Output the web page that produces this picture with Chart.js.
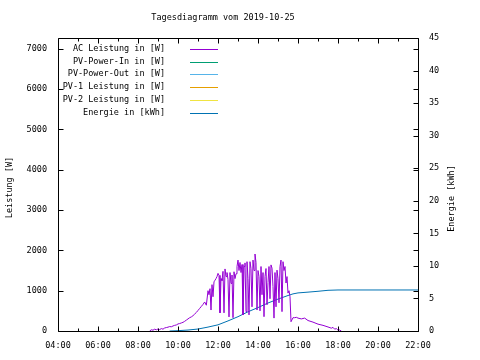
<!DOCTYPE html>
<html>
<head>
<meta charset="utf-8">
<script src="https://cdn.jsdelivr.net/npm/chart.js@4/dist/chart.umd.min.js"></script>
<style>
html,body{margin:0;padding:0;background:#fff;}
#wrap{width:480px;height:360px;position:relative;}
</style>
</head>
<body>
<div id="wrap"><canvas id="c"></canvas></div>
<script>
// ---- data ----
const chartTitle = "Tagesdiagramm vom 2019-10-25";
const yTitle = "Leistung [W]";
const y2Title = "Energie [kWh]";
const seriesLabels = ["AC Leistung in [W]", "PV-Power-In in [W]", "PV-Power-Out in [W]", "PV-1 Leistung in [W]", "PV-2 Leistung in [W]", "Energie in [kWh]"];
const seriesColors = ["#9400D3", "#009E73", "#56B4E9", "#E69F00", "#F0E442", "#0072B2"];

const acTimes = ["08:35","08:40","08:45","08:50","08:55","09:00","09:05","09:10","09:15","09:20","09:25","09:30","09:35","09:40","09:45","09:50","09:55","10:00","10:05","10:10","10:15","10:20","10:25","10:30","10:35","10:40","10:45","10:50","10:55","11:00","11:05","11:10","11:15","11:20","11:25",
"11:30","11:33","11:36","11:39","11:42","11:45","11:48","11:51","11:54","11:57",
"12:00","12:03","12:06","12:09","12:12","12:15","12:18","12:21","12:24","12:27","12:30","12:33","12:36","12:39","12:42","12:45","12:48","12:51","12:54","12:57",
"13:00","13:03","13:06","13:09","13:12","13:15","13:18","13:21","13:24","13:27","13:30","13:33","13:36","13:39","13:42","13:45","13:48","13:51","13:54","13:57",
"14:00","14:03","14:06","14:09","14:12","14:15","14:18","14:21","14:24","14:27","14:30","14:33","14:36","14:39","14:42","14:45","14:48","14:51","14:54","14:57",
"15:00","15:03","15:06","15:09","15:12","15:15","15:18","15:21","15:24","15:27","15:30","15:33","15:36","15:39",
"15:45","15:50","15:55","16:00","16:10","16:20","16:30","16:45","17:00","17:15","17:30","17:40","17:45","17:50","17:55","18:00","18:05","18:10"];
const acValues = [0,30,20,45,30,50,35,60,45,75,85,95,110,105,125,140,150,175,185,200,215,240,270,300,330,350,380,420,460,510,560,610,660,720,640,
1000,900,1050,520,1150,850,1220,1260,1300,1350,
1430,1380,450,1300,1250,1480,450,1540,1350,1450,1280,350,1450,1180,1390,330,1470,1300,1420,1600,
1760,1500,1700,1450,1650,400,1600,1690,480,1720,1300,400,1720,1550,600,1760,1500,1910,1700,520,
1500,1350,500,1600,900,1450,355,1350,1550,650,1200,1600,800,1640,1560,1100,320,1450,600,1510,
1300,700,1600,1760,480,1720,1500,1600,1190,1350,940,1000,850,230,
330,330,340,320,300,320,260,220,170,140,100,70,90,45,60,20,25,0];

const energyTimes = ["09:35","10:00","10:30","11:00","11:30","12:00","12:30","13:00","13:30","14:00","14:30","15:00","15:30","15:45","16:00","16:30","17:00","17:30","18:00","22:00"];
const energyValues = [0,0.05,0.15,0.3,0.6,0.95,1.55,2.2,2.95,3.6,4.3,4.9,5.45,5.7,5.85,5.97,6.1,6.25,6.3,6.3];

const xMin = 4, xMax = 22, xStep = 2;
const yMin = 0, yMax = 7270;
const yTickValues = [0,1000,2000,3000,4000,5000,6000,7000];
const y2Min = 0, y2Max = 45;
const y2TickValues = [0,5,10,15,20,25,30,35,40,45];

// ---- build ----
function toHours(s){ const p = s.split(":"); return (+p[0]) + (+p[1])/60; }
function pts(times, vals){ return times.map((t,i)=>({x:toHours(t), y:vals[i]})); }

const FONT = "'DejaVu Sans Mono', 'Liberation Mono', monospace";
const FS = 8.5;

const datasets = seriesLabels.map((lab,i)=>({
  label: lab,
  borderColor: seriesColors[i],
  backgroundColor: seriesColors[i],
  borderWidth: 1,
  pointRadius: 0,
  tension: 0,
  fill: false,
  yAxisID: i === 5 ? 'y2' : 'y',
  data: i === 0 ? pts(acTimes, acValues) : (i === 5 ? pts(energyTimes, energyValues) : [])
}));

const decor = {
  id: 'decor',
  afterDraw(chart){
    const ctx = chart.ctx;
    const a = chart.chartArea;
    const xs = chart.scales.x, ys = chart.scales.y, y2 = chart.scales.y2;
    ctx.save();
    ctx.strokeStyle = '#000';
    ctx.lineWidth = 1;
    const L = Math.round(a.left)+0.5, R = Math.round(a.right)+0.5, T = Math.round(a.top)+0.5, B = Math.round(a.bottom)+0.5;
    ctx.beginPath();
    for (let h = xs.min; h <= xs.max + 1e-9; h += 1) {
      const px = Math.round(xs.getPixelForValue(h)) + 0.5;
      const len = (Math.round(h) % xStep === 0) ? 5 : 3;
      ctx.moveTo(px, B); ctx.lineTo(px, B - len);
      ctx.moveTo(px, T); ctx.lineTo(px, T + len);
    }
    ys.ticks.forEach(t=>{
      const py = Math.round(ys.getPixelForValue(t.value)) + 0.5;
      ctx.moveTo(L, py); ctx.lineTo(L + 5, py);
      ctx.moveTo(R, py); ctx.lineTo(R - 5, py);
    });
    y2.ticks.forEach(t=>{
      const py = Math.round(y2.getPixelForValue(t.value)) + 0.5;
      ctx.moveTo(R, py); ctx.lineTo(R - 5, py);
    });
    ctx.rect(L, T, R - L, B - T);
    ctx.stroke();

    ctx.fillStyle = '#000';
    ctx.font = FS + 'px ' + FONT;
    ctx.textAlign = 'center'; ctx.textBaseline = 'middle';
    ctx.fillText(chartTitle, chart.width/2 - 17, 18);
    ctx.save();
    ctx.translate(10, (a.top + a.bottom)/2 + 3);
    ctx.rotate(-Math.PI/2);
    ctx.fillText(yTitle, 0, 0);
    ctx.restore();
    ctx.save();
    ctx.translate(452, (a.top + a.bottom)/2 + 14);
    ctx.rotate(-Math.PI/2);
    ctx.fillText(y2Title, 0, 0);
    ctx.restore();
    ctx.textAlign = 'right';
    chart.data.datasets.forEach((ds,i)=>{
      const ry = Math.round(a.top + 11 + i*12.7);
      ctx.fillStyle = '#000';
      ctx.fillText(ds.label, a.left + 107, ry);
      ctx.strokeStyle = ds.borderColor;
      ctx.beginPath();
      ctx.moveTo(a.left + 132, ry + 0.5);
      ctx.lineTo(a.left + 160, ry + 0.5);
      ctx.stroke();
    });
    ctx.restore();
  }
};

new Chart(document.getElementById('c'), {
  type: 'line',
  data: { datasets },
  options: {
    responsive: true,
    maintainAspectRatio: false,
    animation: false,
    layout: { padding: { top: 38, left: 0, right: 0, bottom: 0 } },
    plugins: { legend: { display: false }, title: { display: false }, tooltip: { enabled: false } },
    scales: {
      x: {
        type: 'linear', min: xMin, max: xMax,
        grid: { display: false, drawTicks: false },
        border: { display: false },
        ticks: {
          stepSize: xStep, padding: 10, color: '#000', maxRotation: 0, autoSkip: false,
          font: { family: FONT, size: FS },
          callback: v => String(v).padStart(2,'0') + ':00'
        },
        afterFit: s => { s.height = 29; }
      },
      y: {
        type: 'linear', position: 'left', min: yMin, max: yMax,
        grid: { display: false, drawTicks: false },
        border: { display: false },
        ticks: {
          padding: 11, color: '#000', autoSkip: false,
          font: { family: FONT, size: FS },
          callback: v => String(v)
        },
        afterBuildTicks: s => { s.ticks = yTickValues.map(v => ({ value: v })); },
        afterFit: s => { s.width = 58; }
      },
      y2: {
        type: 'linear', position: 'right', min: y2Min, max: y2Max,
        grid: { display: false, drawTicks: false },
        border: { display: false },
        ticks: {
          padding: 11, color: '#000', autoSkip: false,
          font: { family: FONT, size: FS },
          callback: v => String(v)
        },
        afterBuildTicks: s => { s.ticks = y2TickValues.map(v => ({ value: v })); },
        afterFit: s => { s.width = 62; }
      }
    }
  },
  plugins: [decor]
});
</script>
</body>
</html>
